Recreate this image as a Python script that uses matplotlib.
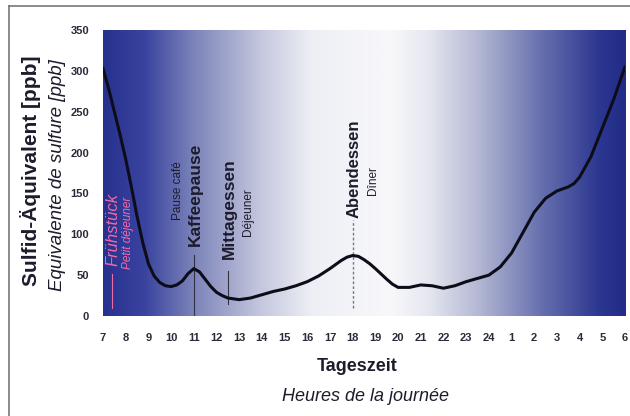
import matplotlib
matplotlib.use("Agg")
import matplotlib.pyplot as plt
import numpy as np
from matplotlib.colors import LinearSegmentedColormap
from matplotlib.lines import Line2D

plt.rcParams['font.family'] = ['Liberation Sans Narrow', 'Liberation Sans', 'DejaVu Sans']

# Time of day (hours after midnight, 25..30 = 1..6 next morning) and sulfide level
hours = [7, 7.25, 7.5, 7.75, 8, 8.25, 8.5, 8.75, 9, 9.25, 9.5, 9.75, 10, 10.25,
         10.5, 10.75, 11, 11.25, 11.5, 11.75, 12, 12.25, 12.5, 13, 13.5, 14, 14.5,
         15, 15.5, 16, 16.5, 17, 17.5, 17.75, 18, 18.25, 18.5, 18.75, 19, 19.5,
         19.75, 20, 20.5, 21, 21.5, 22, 22.5, 23, 23.5, 24, 24.5, 25, 25.5, 26,
         26.5, 27, 27.5, 27.75, 28, 28.5, 29, 29.5, 30]
ppb = [303, 278, 250, 222, 192, 158, 122, 90, 64, 49, 41, 37, 36, 38,
       43, 52, 58, 54, 45, 36, 29, 25, 22, 20, 22, 26, 30,
       33, 37, 42, 49, 58, 68, 72, 74, 73, 69, 64, 58, 45,
       39, 35, 35, 38, 37, 34, 37, 42, 46, 50, 60, 77, 102, 127,
       144, 153, 158, 162, 170, 195, 230, 265, 305]

tick_hours = list(range(7, 31))
tick_labels = [str(h if h <= 24 else h - 24) for h in tick_hours]
y_ticks = [0, 50, 100, 150, 200, 250, 300, 350]

dark = '#1c1c2c'
pink = '#f06aa8'

fig = plt.figure(figsize=(6.3, 4.16), dpi=100)
fig.patch.set_facecolor('white')
ax = fig.add_axes([0.1635, 0.2404, 0.8286, 0.6875])

# background gradient: dark blue -> white -> dark blue
cmap = LinearSegmentedColormap.from_list('bg', [
    (0.0, '#27318e'), (0.08, '#3b45a0'), (0.17, '#7a82b8'), (0.3, '#c4c7de'),
    (0.4, '#eeeff5'), (0.55, '#f8f8fb'), (0.62, '#e6e8f0'), (0.72, '#b3b7d3'),
    (0.84, '#6670ae'), (0.95, '#2c3790'), (1.0, '#222c88')])
grad = np.linspace(0, 1, 512).reshape(1, -1)
ax.imshow(grad, cmap=cmap, aspect='auto', extent=[7, 30, 0, 350], zorder=0)

ax.plot(hours, ppb, color='#0d0d1a', lw=2.2, zorder=3,
        solid_joinstyle='round', solid_capstyle='round')

# meal markers
ax.plot([7.4, 7.4], [10, 52], color=pink, lw=0.8, zorder=2)
ax.plot([11, 11], [0, 75], color='#333344', lw=0.8, zorder=2)
ax.plot([12.5, 12.5], [15, 55], color='#333344', lw=0.8, zorder=2)
ax.plot([18, 18], [10, 118], color='#777788', lw=1.0, ls=(0, (2, 1.5)), zorder=2)

ax.text(7.45, 106, 'Frühstück', rotation=90, color=pink, fontsize=12,
        style='italic', ha='center', va='center', zorder=4)
ax.text(8.1, 102, 'Petit déjeuner', rotation=90, color=pink, fontsize=8.5,
        style='italic', ha='center', va='center', zorder=4)
ax.text(10.3, 154, 'Pause café', rotation=90, color=dark, fontsize=8.5,
        ha='center', va='center', zorder=4)
ax.text(11.05, 149, 'Kaffeepause', rotation=90, color=dark, fontsize=12.5,
        fontweight='bold', ha='center', va='center', zorder=4)
ax.text(12.55, 132, 'Mittagessen', rotation=90, color=dark, fontsize=12.5,
        fontweight='bold', ha='center', va='center', zorder=4)
ax.text(13.4, 127, 'Déjeuner', rotation=90, color=dark, fontsize=8.5,
        ha='center', va='center', zorder=4)
ax.text(18.05, 180, 'Abendessen', rotation=90, color=dark, fontsize=12,
        fontweight='bold', ha='center', va='center', zorder=4)
ax.text(18.9, 166, 'Dîner', rotation=90, color=dark, fontsize=8.5,
        ha='center', va='center', zorder=4)

ax.set_xlim(7, 30)
ax.set_ylim(0, 350)
ax.set_xticks(tick_hours)
ax.set_xticklabels(tick_labels)
ax.set_yticks(y_ticks)
ax.tick_params(axis='both', length=0, labelsize=8, labelcolor='#2a2a3a')
ax.tick_params(axis='x', pad=12)
ax.tick_params(axis='y', pad=10)
for lab in ax.get_xticklabels() + ax.get_yticklabels():
    lab.set_fontweight('bold')
for s in ax.spines.values():
    s.set_visible(False)

# axis titles
fig.text(0.048, 0.59, 'Sulfid-Äquivalent [ppb]', rotation=90, fontsize=15,
         fontweight='bold', color=dark, ha='center', va='center')
fig.text(0.092, 0.58, 'Equivalente de sulfure [ppb]', rotation=90, fontsize=13.5,
         style='italic', color=dark, ha='center', va='center')
fig.text(0.567, 0.118, 'Tageszeit', fontsize=13, fontweight='bold',
         color=dark, ha='center', va='center')
fig.text(0.58, 0.048, 'Heures de la journée', fontsize=13, style='italic',
         color=dark, ha='center', va='center')

# outer frame (top and left edges visible)
fig.add_artist(Line2D([0.0143, 1.0], [0.986, 0.986], color='#777777', lw=1.2))
fig.add_artist(Line2D([0.0143, 0.0143], [0.0, 0.986], color='#777777', lw=1.2))

fig.savefig('out.png', dpi=100)
